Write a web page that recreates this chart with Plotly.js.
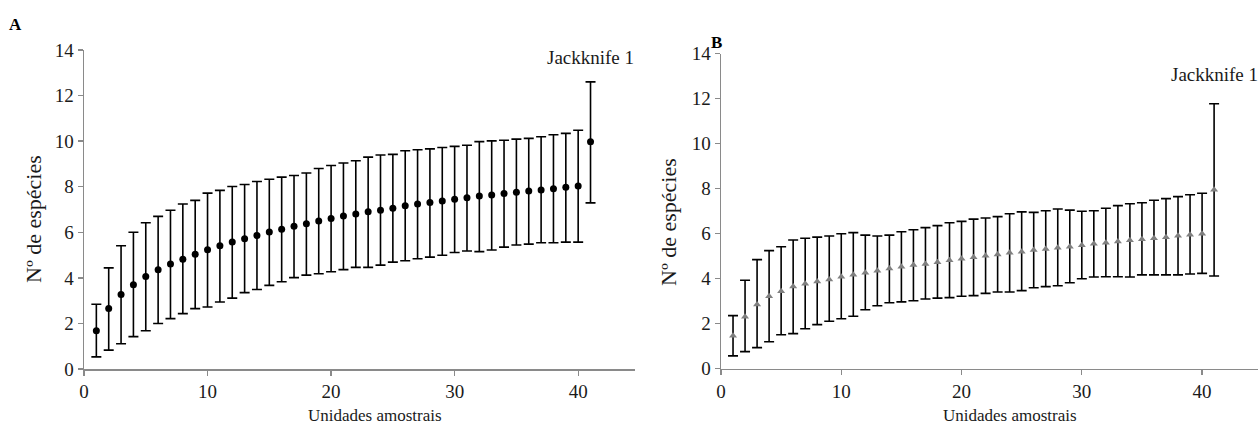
<!DOCTYPE html>
<html>
<head>
<meta charset="utf-8">
<script src="https://cdn.plot.ly/plotly-3.0.1.min.js"></script>
<style>
  html, body { margin: 0; padding: 0; background: #ffffff; }
  #chart { width: 1259px; height: 430px; }
</style>
</head>
<body>
<div id="chart"></div>
<script>
const units = [1,2,3,4,5,6,7,8,9,10,11,12,13,14,15,16,17,18,19,20,21,22,23,24,25,26,27,28,29,30,31,32,33,34,35,36,37,38,39,40,41];

const meanA  = [1.68,2.65,3.27,3.70,4.06,4.36,4.61,4.82,5.04,5.23,5.41,5.57,5.72,5.86,6.01,6.13,6.27,6.37,6.49,6.61,6.71,6.80,6.90,6.97,7.06,7.16,7.24,7.31,7.37,7.45,7.52,7.59,7.64,7.70,7.76,7.81,7.86,7.91,7.98,8.03,9.97];
const upperA = [2.84,4.44,5.41,6.00,6.42,6.70,6.97,7.24,7.40,7.72,7.84,8.01,8.10,8.23,8.33,8.42,8.49,8.60,8.80,8.93,9.04,9.14,9.30,9.39,9.42,9.58,9.62,9.66,9.72,9.77,9.82,9.98,10.01,10.04,10.09,10.12,10.19,10.28,10.34,10.48,12.60];
const lowerA = [0.53,0.83,1.11,1.42,1.68,2.00,2.21,2.43,2.65,2.72,2.94,3.11,3.35,3.49,3.67,3.83,4.01,4.12,4.18,4.27,4.36,4.46,4.46,4.56,4.69,4.75,4.84,4.91,4.99,5.11,5.18,5.15,5.22,5.35,5.44,5.48,5.54,5.54,5.57,5.57,7.29];

const meanB  = [1.46,2.30,2.85,3.21,3.43,3.64,3.77,3.87,3.96,4.08,4.17,4.26,4.35,4.44,4.52,4.60,4.64,4.72,4.81,4.88,4.94,5.01,5.07,5.14,5.19,5.27,5.31,5.37,5.41,5.48,5.55,5.59,5.64,5.70,5.74,5.79,5.83,5.90,5.95,5.99,7.95];
const upperB = [2.35,3.92,4.84,5.24,5.41,5.71,5.79,5.84,5.89,5.99,6.04,5.93,5.89,5.93,6.08,6.17,6.26,6.35,6.48,6.54,6.64,6.69,6.75,6.88,6.96,6.94,7.01,7.09,7.04,6.99,7.01,7.12,7.24,7.32,7.37,7.48,7.55,7.64,7.72,7.79,11.77];
const lowerB = [0.56,0.75,0.93,1.19,1.50,1.55,1.77,1.95,2.10,2.21,2.32,2.61,2.79,2.92,2.96,3.01,3.09,3.13,3.15,3.21,3.24,3.34,3.40,3.40,3.46,3.59,3.64,3.68,3.81,3.99,4.07,4.08,4.08,4.07,4.16,4.16,4.16,4.16,4.20,4.23,4.11];

const xTicks = [0,10,20,30,40];
const yTicks = [0,2,4,6,8,10,12,14];
const panelLabels = ['A','B'];
const estimatorLabel = 'Jackknife 1';
const xTitle = 'Unidades amostrais';
const yTitle = 'Nº de espécies';

const W = 1259, H = 430;
const FONT = 'Liberation Serif, Times New Roman, serif';
const AXIS_GRAY = '#8a8a8a';
const TXT = '#1a1a1a';

function errBar(mean, up, lo) {
  return {
    type: 'data', symmetric: false,
    array: up.map((u, i) => +(u - mean[i]).toFixed(3)),
    arrayminus: lo.map((l, i) => +(mean[i] - l).toFixed(3)),
    color: '#000000', thickness: 1.6, width: 5
  };
}

const traces = [
  {
    x: units, y: meanA, xaxis: 'x', yaxis: 'y', type: 'scatter', mode: 'markers',
    marker: { symbol: 'circle', size: 7, color: '#000000' },
    error_y: errBar(meanA, upperA, lowerA), showlegend: false, hoverinfo: 'x+y'
  },
  {
    x: units, y: meanB, xaxis: 'x2', yaxis: 'y2', type: 'scatter', mode: 'markers',
    marker: { symbol: 'triangle-up', size: 7, color: '#808080' },
    error_y: errBar(meanB, upperB, lowerB), showlegend: false, hoverinfo: 'x+y'
  }
];

function xAxis(domain, anchor, range) {
  return {
    domain: domain, anchor: anchor, range: range,
    tickvals: xTicks, ticktext: xTicks.map(String),
    showgrid: false, zeroline: false,
    showline: true, linecolor: AXIS_GRAY, linewidth: 1.5,
    ticks: 'outside', ticklen: 5, tickwidth: 1.3, tickcolor: AXIS_GRAY,
    tickfont: { family: FONT, size: 19, color: TXT },
    automargin: false, fixedrange: true
  };
}
function yAxis(domain, anchor) {
  return {
    domain: domain, anchor: anchor, range: [0, 14],
    tickvals: yTicks, ticktext: yTicks.map(String),
    showgrid: false, zeroline: false,
    showline: true, linecolor: AXIS_GRAY, linewidth: 1.5,
    ticks: 'outside', ticklen: 5, tickwidth: 1.3, tickcolor: AXIS_GRAY,
    tickfont: { family: FONT, size: 19, color: TXT },
    automargin: false, fixedrange: true
  };
}

function pxAnn(text, px, py, size, extra) {
  return Object.assign({
    text: text, xref: 'paper', yref: 'paper', x: px / W, y: 1 - py / H,
    xanchor: 'center', yanchor: 'middle', showarrow: false,
    font: { family: FONT, size: size, color: TXT }
  }, extra || {});
}

const layout = {
  width: W, height: H,
  margin: { l: 0, r: 0, t: 0, b: 0 },
  paper_bgcolor: '#ffffff', plot_bgcolor: '#ffffff',
  font: { family: FONT, size: 18, color: TXT },
  xaxis:  xAxis([84 / W, 635 / W], 'y', [0, 44.6]),
  yaxis:  yAxis([1 - 369 / H, 1 - 50 / H], 'x'),
  xaxis2: xAxis([721 / W, 1258 / W], 'y2', [0, 44.65]),
  yaxis2: yAxis([1 - 368.5 / H, 1 - 53.5 / H], 'x2'),
  annotations: [
    { text: estimatorLabel, xref: 'x', yref: 'y', x: 41, y: 13.65, showarrow: false,
      xanchor: 'center', yanchor: 'middle', font: { family: FONT, size: 19, color: TXT } },
    { text: estimatorLabel, xref: 'x2', yref: 'y2', x: 41, y: 13.05, showarrow: false,
      xanchor: 'center', yanchor: 'middle', font: { family: FONT, size: 19, color: TXT } },
    pxAnn(xTitle, 375, 415, 17),
    pxAnn(xTitle, 1010, 415, 17),
    pxAnn(yTitle, 33, 219, 22, { textangle: -90 }),
    pxAnn(yTitle, 668, 222, 22, { textangle: -90 }),
    pxAnn('<b>' + panelLabels[0] + '</b>', 16, 24, 17, { font: { family: FONT, size: 17, color: '#000' } }),
    pxAnn('<b>' + panelLabels[1] + '</b>', 716, 42, 17, { font: { family: FONT, size: 17, color: '#000' } })
  ]
};

Plotly.newPlot('chart', traces, layout, { staticPlot: true, displayModeBar: false });
</script>
</body>
</html>
